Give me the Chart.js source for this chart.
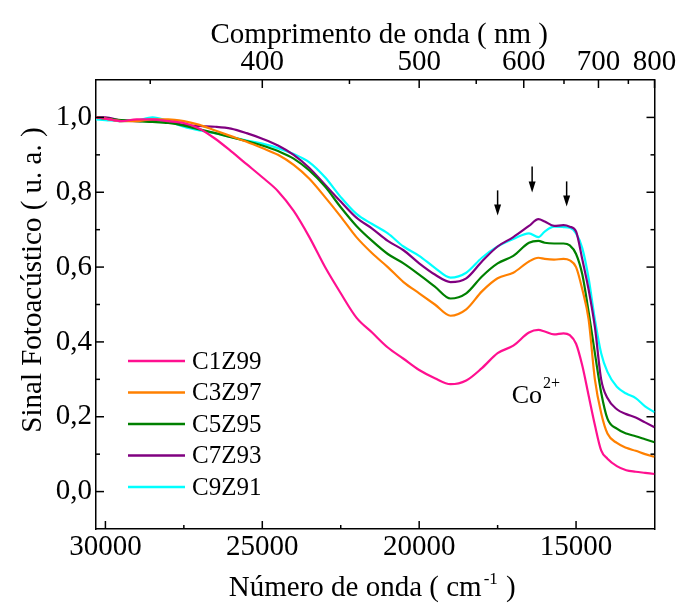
<!DOCTYPE html>
<html>
<head>
<meta charset="utf-8">
<script src="https://cdn.jsdelivr.net/npm/chart.js@4.4.1/dist/chart.umd.min.js"></script>
<style>
  html, body { margin: 0; padding: 0; background: #fff; }
  canvas { display: block; }
</style>
</head>
<body>
<canvas id="pasChart" width="678" height="603"></canvas>
<script>
// wavenumber grid (cm-1)
const wavenumbers = [30300, 30000, 29500, 29000, 28500, 28000, 27500, 27000, 26500, 26000,
  25500, 25000, 24500, 24000, 23500, 23000, 22500, 22000, 21500, 21000,
  20500, 20000, 19500, 19000, 18500, 18000, 17500, 17000, 16500, 16200,
  16000, 15700, 15400, 15200, 15000, 14800, 14600, 14400, 14200, 14000,
  13700, 13400, 13100, 12800, 12500];

const c1z99 = [1.000, 0.997, 0.990, 0.995, 0.995, 0.990, 0.985, 0.970, 0.943, 0.910,
  0.875, 0.840, 0.803, 0.750, 0.680, 0.600, 0.530, 0.465, 0.425, 0.385,
  0.355, 0.325, 0.303, 0.287, 0.297, 0.330, 0.370, 0.390, 0.425, 0.432,
  0.428, 0.420, 0.423, 0.418, 0.395, 0.336, 0.257, 0.178, 0.110, 0.088,
  0.068, 0.057, 0.053, 0.050, 0.047];

const c3z97 = [1.000, 0.997, 0.990, 0.990, 0.995, 0.995, 0.990, 0.980, 0.965, 0.950,
  0.935, 0.918, 0.900, 0.873, 0.836, 0.787, 0.735, 0.680, 0.637, 0.600,
  0.560, 0.530, 0.500, 0.470, 0.487, 0.535, 0.570, 0.585, 0.615, 0.625,
  0.622, 0.620, 0.622, 0.618, 0.600, 0.540, 0.460, 0.300, 0.210, 0.155,
  0.130, 0.117, 0.109, 0.100, 0.093];

const c5z95 = [1.000, 0.997, 0.993, 0.990, 0.988, 0.985, 0.978, 0.968, 0.958, 0.947,
  0.937, 0.925, 0.910, 0.890, 0.858, 0.815, 0.760, 0.710, 0.670, 0.635,
  0.610, 0.580, 0.548, 0.516, 0.530, 0.575, 0.610, 0.630, 0.665, 0.670,
  0.665, 0.663, 0.663, 0.658, 0.635, 0.580, 0.480, 0.370, 0.265, 0.195,
  0.168, 0.155, 0.148, 0.140, 0.132];

const c7z93 = [1.000, 1.000, 0.992, 0.990, 0.993, 0.990, 0.980, 0.977, 0.975, 0.970,
  0.958, 0.943, 0.925, 0.900, 0.865, 0.820, 0.775, 0.732, 0.703, 0.670,
  0.645, 0.610, 0.580, 0.560, 0.570, 0.615, 0.655, 0.680, 0.710, 0.728,
  0.722, 0.710, 0.712, 0.708, 0.695, 0.620, 0.540, 0.440, 0.300, 0.250,
  0.220, 0.207, 0.198, 0.185, 0.172];

const c9z91 = [0.995, 0.993, 0.990, 0.992, 1.000, 0.990, 0.975, 0.965, 0.958, 0.948,
  0.938, 0.930, 0.918, 0.902, 0.880, 0.840, 0.787, 0.742, 0.715, 0.690,
  0.655, 0.630, 0.598, 0.572, 0.585, 0.625, 0.655, 0.675, 0.690, 0.680,
  0.695, 0.708, 0.707, 0.705, 0.690, 0.650, 0.570, 0.460, 0.370, 0.320,
  0.280, 0.262, 0.250, 0.228, 0.212];

const seriesNames = ['C1Z99', 'C3Z97', 'C5Z95', 'C7Z93', 'C9Z91'];
const seriesValues = [c1z99, c3z97, c5z95, c7z93, c9z91];
const seriesColors = ['#ff1090', '#ff8000', '#008000', '#800080', '#00ffff'];

// axis ticks
const bottomTicks = [30000, 25000, 20000, 15000];
const bottomMinor = [27500, 22500, 17500];
const topTicksNm = [400, 500, 600, 700, 800];
const topMinorNm = [350, 450, 550, 650, 750];
const yTicks = [0, 0.2, 0.4, 0.6, 0.8, 1.0];
const yMinor = [0.1, 0.3, 0.5, 0.7, 0.9];

// arrows marking the Co2+ bands (wavenumber, start and tip signal)
const arrowX = [17500, 16400, 15300];
const arrowTop = [0.805, 0.869, 0.829];
const arrowTip = [0.738, 0.799, 0.762];
const ionLabelAt = [17050, 0.236];

const FONT = '"Liberation Serif", "Times New Roman", serif';

const datasets = seriesNames.map((name, i) => ({
  label: name,
  data: wavenumbers.map((w, j) => ({ x: w, y: seriesValues[i][j] })),
  borderColor: seriesColors[i],
  borderWidth: 2.2,
  pointRadius: 0,
  fill: false,
  cubicInterpolationMode: 'monotone'
}));

const decorations = {
  id: 'decorations',
  afterDraw(chart) {
    const { ctx, chartArea: a, scales } = chart;
    const x = scales.x, y = scales.y;
    ctx.save();
    ctx.strokeStyle = '#000';
    ctx.fillStyle = '#000';
    ctx.lineWidth = 1.5;
    const line = (x1, y1, x2, y2) => {
      ctx.beginPath(); ctx.moveTo(x1, y1); ctx.lineTo(x2, y2); ctx.stroke();
    };

    // inward ticks
    bottomTicks.forEach(v => { const p = x.getPixelForValue(v); line(p, a.bottom, p, a.bottom - 8); });
    bottomMinor.forEach(v => { const p = x.getPixelForValue(v); line(p, a.bottom, p, a.bottom - 4); });
    topTicksNm.forEach(nm => { const p = x.getPixelForValue(1e7 / nm); line(p, a.top, p, a.top + 8); });
    topMinorNm.forEach(nm => { const p = x.getPixelForValue(1e7 / nm); line(p, a.top, p, a.top + 4); });
    yTicks.forEach(v => {
      const p = y.getPixelForValue(v);
      line(a.left, p, a.left + 8, p);
      line(a.right, p, a.right - 8, p);
    });
    yMinor.forEach(v => {
      const p = y.getPixelForValue(v);
      line(a.left, p, a.left + 4, p);
      line(a.right, p, a.right - 4, p);
    });

    // axis titles
    const cx = (a.left + a.right) / 2;
    ctx.textBaseline = 'alphabetic';
    ctx.font = '29px ' + FONT;
    ctx.textAlign = 'center';
    ctx.fillText('Comprimento de onda ( nm )', cx + 4, 43);

    const p1 = 'Número de onda ( cm', sup = '-1', p3 = ' )';
    ctx.textAlign = 'left';
    const w1 = ctx.measureText(p1).width, w3 = ctx.measureText(p3).width;
    ctx.font = '17px ' + FONT;
    const ws = ctx.measureText(sup).width + 3;
    let sx = cx - 3 - (w1 + ws + w3) / 2;
    ctx.font = '29px ' + FONT;
    ctx.fillText(p1, sx, 596);
    ctx.font = '17px ' + FONT;
    ctx.fillText(sup, sx + w1 + 2, 584);
    ctx.font = '29px ' + FONT;
    ctx.fillText(p3, sx + w1 + ws, 596);

    ctx.save();
    ctx.translate(41, 280);
    ctx.rotate(-Math.PI / 2);
    ctx.textAlign = 'center';
    ctx.fillText('Sinal Fotoacústico ( u. a. )', 0, 0);
    ctx.restore();

    // legend
    ctx.font = '25px ' + FONT;
    ctx.textAlign = 'left';
    ctx.textBaseline = 'middle';
    seriesNames.forEach((name, i) => {
      const ly = 361 + i * 31.5;
      ctx.strokeStyle = seriesColors[i];
      ctx.lineWidth = 2.5;
      line(128, ly, 185, ly);
      ctx.fillStyle = '#000';
      ctx.fillText(name, 192, ly + 1);
    });

    // Co2+ label
    ctx.textBaseline = 'alphabetic';
    const lx = x.getPixelForValue(ionLabelAt[0]), lyy = y.getPixelForValue(ionLabelAt[1]);
    ctx.font = '26px ' + FONT;
    ctx.fillText('Co', lx, lyy);
    const wc = ctx.measureText('Co').width;
    ctx.font = '16px ' + FONT;
    ctx.fillText('2+', lx + wc + 1, lyy - 15);

    // arrows
    ctx.strokeStyle = '#000';
    ctx.lineWidth = 1.5;
    arrowX.forEach((w, i) => {
      const px = x.getPixelForValue(w);
      const t0 = y.getPixelForValue(arrowTop[i]);
      const t1 = y.getPixelForValue(arrowTip[i]);
      line(px, t0, px, t1 - 8);
      ctx.beginPath();
      ctx.moveTo(px - 3.5, t1 - 11);
      ctx.lineTo(px + 3.5, t1 - 11);
      ctx.lineTo(px, t1);
      ctx.closePath();
      ctx.fill();
    });
    ctx.restore();
  }
};

const tickFont = { family: FONT, size: 29 };

new Chart(document.getElementById('pasChart'), {
  type: 'line',
  data: { datasets },
  options: {
    responsive: false,
    devicePixelRatio: 1,
    animation: false,
    layout: { padding: 0 },
    plugins: { legend: { display: false }, tooltip: { enabled: false } },
    scales: {
      x: {
        type: 'linear', position: 'bottom', reverse: true, min: 12500, max: 30300,
        afterBuildTicks: s => { s.ticks = bottomTicks.map(v => ({ value: v })); },
        afterFit: s => { s.height = 74; },
        grid: { display: false, drawTicks: false },
        border: { color: '#000', width: 1.5 },
        ticks: { color: '#000', font: tickFont, padding: 1, maxRotation: 0, autoSkip: false,
          callback: v => String(v) }
      },
      xTop: {
        type: 'linear', position: 'top', reverse: true, min: 12500, max: 30300,
        afterBuildTicks: s => { s.ticks = topTicksNm.map(nm => ({ value: 1e7 / nm })); },
        afterFit: s => { s.height = 80; },
        grid: { display: false, drawTicks: false },
        border: { color: '#000', width: 1.5 },
        ticks: { color: '#000', font: tickFont, padding: 0, maxRotation: 0, autoSkip: false,
          callback: v => String(Math.round(1e7 / v)) }
      },
      y: {
        type: 'linear', position: 'left', min: -0.1, max: 1.1,
        afterBuildTicks: s => { s.ticks = yTicks.map(v => ({ value: v })); },
        afterFit: s => { s.width = 96; },
        grid: { display: false, drawTicks: false },
        border: { color: '#000', width: 1.5 },
        ticks: { color: '#000', font: tickFont, padding: 4,
          callback: v => v.toFixed(1).replace('.', ',') }
      },
      yRight: {
        type: 'linear', position: 'right', min: -0.1, max: 1.1,
        afterFit: s => { s.width = 23.5; },
        grid: { display: false, drawTicks: false },
        border: { color: '#000', width: 1.5 },
        ticks: { display: false }
      }
    }
  },
  plugins: [decorations]
});
</script>
</body>
</html>
